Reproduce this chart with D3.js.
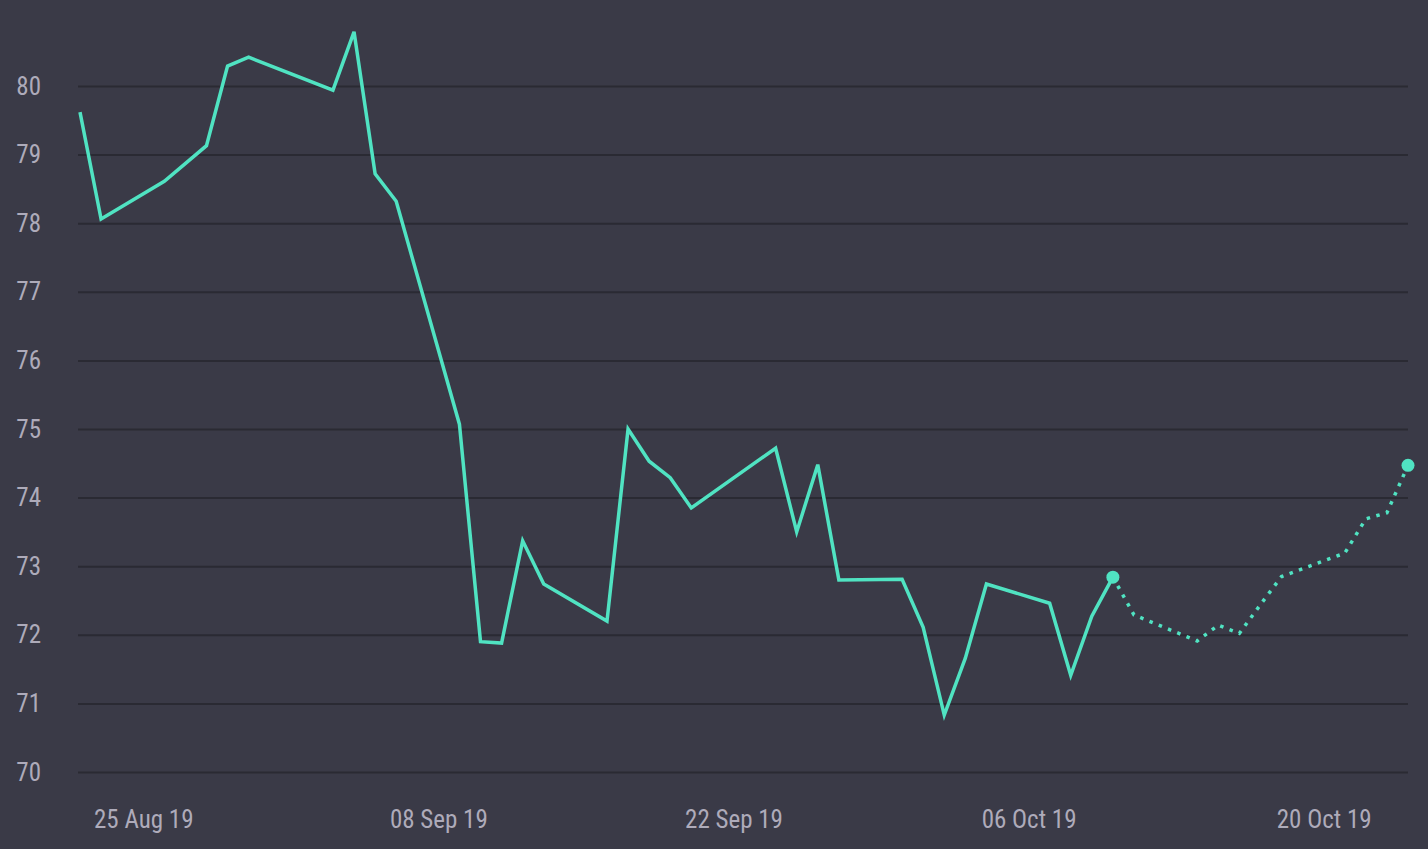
<!DOCTYPE html>
<html>
<head>
<meta charset="utf-8">
<script src="https://cdn.jsdelivr.net/npm/d3@7"></script>
<style>
  html, body { margin: 0; padding: 0; background: #3a3a47; }
  svg { display: block; }
  .tick text { font-family: "Roboto Condensed", "Roboto", sans-serif; }
</style>
</head>
<body>
<div id="chart"></div>
<script>
// actual prices (trading days)
const actualDates = ['2019-08-22', '2019-08-23', '2019-08-26', '2019-08-28', '2019-08-29', '2019-08-30',
  '2019-09-03', '2019-09-04', '2019-09-05', '2019-09-06', '2019-09-09', '2019-09-10', '2019-09-11',
  '2019-09-12', '2019-09-13', '2019-09-16', '2019-09-17', '2019-09-18', '2019-09-19', '2019-09-20',
  '2019-09-24', '2019-09-25', '2019-09-26', '2019-09-27', '2019-09-30', '2019-10-01', '2019-10-02',
  '2019-10-03', '2019-10-04', '2019-10-07', '2019-10-08', '2019-10-09', '2019-10-10']
const actualValues = [79.62, 78.06, 78.61, 79.13, 80.29, 80.42,
  79.94, 80.79, 78.72, 78.32, 75.07, 71.90, 71.88,
  73.37, 72.74, 72.20, 75.00, 74.53, 74.29, 73.85,
  74.72, 73.50, 74.48, 72.80, 72.81, 72.11, 70.83,
  71.66, 72.74, 72.46, 71.41, 72.27, 72.84]

// forecast (dotted)
const forecastDates = ['2019-10-10', '2019-10-11', '2019-10-14', '2019-10-15', '2019-10-16', '2019-10-17',
  '2019-10-18', '2019-10-21', '2019-10-22', '2019-10-23', '2019-10-24']
const forecastValues = [72.84, 72.29, 71.91, 72.14, 72.02, 72.44, 72.85, 73.19, 73.69, 73.78, 74.47]

const yTicks = [70, 71, 72, 73, 74, 75, 76, 77, 78, 79, 80]
const xTickLabels = ['2019-08-25', '2019-09-08', '2019-09-22', '2019-10-06', '2019-10-20']

const parse = d3.timeParse('%Y-%m-%d')
const actual = actualDates.map((d, i) => ({ date: parse(d), value: actualValues[i] }))
const forecast = forecastDates.map((d, i) => ({ date: parse(d), value: forecastValues[i] }))

////////////// SVG setup //////////////
const svgWidth = 1428
const svgHeight = 849
const margin = { left: 80, right: 20, top: 86, bottom: 77 }
const width = svgWidth - margin.left - margin.right
const height = svgHeight - margin.top - margin.bottom

const lineColor = '#50e3c2'
const gridColor = '#2a2a33'
const textColor = '#aeabba'

const svg = d3.select('#chart')
  .append('svg')
  .attr('width', svgWidth)
  .attr('height', svgHeight)
  .style('background', '#3a3a47')
  .append('g')
  .attr('transform', 'translate(' + margin.left + ',' + margin.top + ')')

////////////// scales //////////////
const xScale = d3.scaleTime()
  .domain([parse('2019-08-22'), parse('2019-10-24')])
  .range([0, width])

const yScale = d3.scaleLinear()
  .domain([70, 80])
  .range([height, 0])

////////////// axes //////////////
const yAxis = svg.append('g')
  .call(d3.axisLeft(yScale).tickValues(yTicks).tickSize(-width - 2).tickPadding(37).tickFormat(d3.format('d')))
  .attr('transform', 'translate(-2,0)')
yAxis.select('.domain').remove()
yAxis.selectAll('.tick line').attr('stroke', gridColor).attr('stroke-width', 2)
yAxis.selectAll('.tick text').attr('fill', textColor).attr('font-size', 25)

const xAxis = svg.append('g')
  .attr('transform', 'translate(0,' + height + ')')
  .call(d3.axisBottom(xScale).tickValues(xTickLabels.map(parse)).tickSize(0).tickPadding(38)
    .tickFormat(d3.timeFormat('%d %b %y')))
xAxis.select('.domain').remove()
xAxis.selectAll('.tick text').attr('fill', textColor).attr('font-size', 25)

////////////// lines //////////////
const line = d3.line()
  .x(d => xScale(d.date))
  .y(d => yScale(d.value))

svg.append('path')
  .datum(actual)
  .attr('d', line)
  .attr('fill', 'none')
  .attr('stroke', lineColor)
  .attr('stroke-width', 3.5)
  .attr('stroke-linejoin', 'miter')

svg.append('path')
  .datum(forecast)
  .attr('d', line)
  .attr('fill', 'none')
  .attr('stroke', lineColor)
  .attr('stroke-width', 3.5)
  .attr('stroke-dasharray', '3.5 6.5')

svg.selectAll('.end-dot')
  .data([forecast[0], forecast[forecast.length - 1]])
  .join('circle')
  .attr('class', 'end-dot')
  .attr('cx', d => xScale(d.date))
  .attr('cy', d => yScale(d.value))
  .attr('r', 6.5)
  .attr('fill', lineColor)
</script>
</body>
</html>
